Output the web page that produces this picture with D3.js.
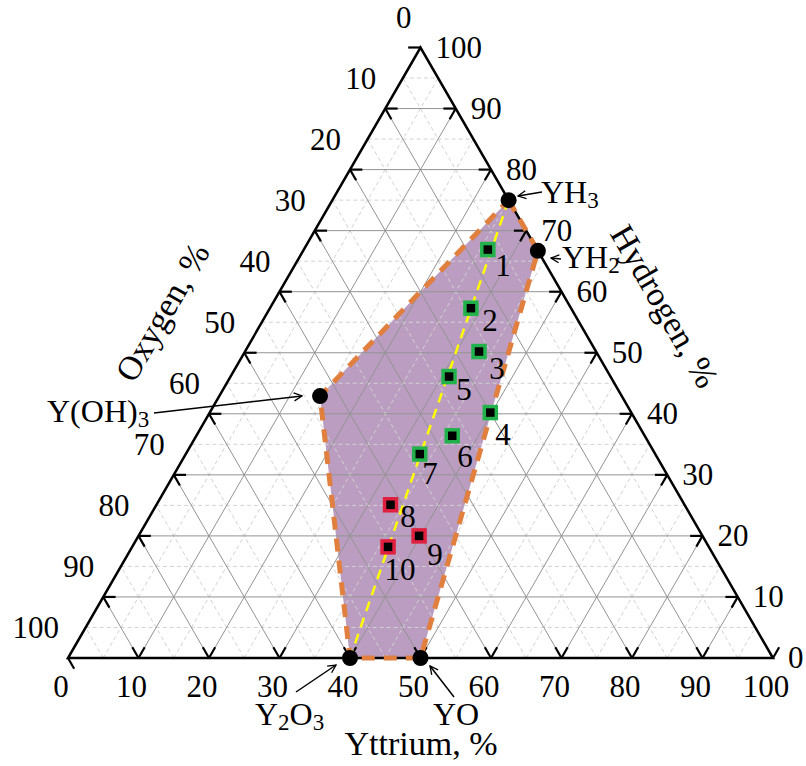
<!DOCTYPE html>
<html>
<head>
<meta charset="utf-8">
<script src="https://cdn.jsdelivr.net/npm/d3@7"></script>
<style>
html,body{margin:0;padding:0;background:#fff;}
svg{display:block;font-family:"Liberation Serif","Times New Roman",serif;}
</style>
</head>
<body>
<svg id="chart" width="806" height="766"></svg>
<script>
// ---- data (ternary compositions, %: Y = yttrium, H = hydrogen, O = oxygen) ----
const tickValues = [0,10,20,30,40,50,60,70,80,90,100];
const tickLabels = ["0","10","20","30","40","50","60","70","80","90","100"];
const compoundNames = ["YH3","YH2","Y(OH)3","Y2O3","YO"];
const compoundY = [25, 33.3, 14.3, 40, 50];
const compoundH = [75, 66.7, 42.9, 0, 0];
const sampleIds = ["1","2","3","4","5","6","7","8","9","10"];
const sampleY = [26.1, 28.5, 33.2, 39.8, 31.0, 36.3, 33.2, 33.2, 39.8, 36.3];
const sampleH = [66.9, 57.3, 50.2, 40.2, 46.1, 36.4, 33.4, 25.1, 20.0, 18.2];
const sampleGroup = ["g","g","g","g","g","g","g","r","r","r"];
// region outline through compounds (by name)
const regionOrder = ["YH3","YH2","YO","Y2O3","Y(OH)3"];

// ---- geometry ----
const svg = d3.select("#chart");
const xS = d3.scaleLinear().domain([0,100]).range([68,773]);
const hS = d3.scaleLinear().domain([0,100]).range([658,47.5]);
const P = (Y,H) => [xS(Y + H/2), hS(H)];
const line = d3.line();

// region fill
const regionPts = regionOrder.map(n => { const i = compoundNames.indexOf(n); return P(compoundY[i], compoundH[i]); });
svg.append("path").attr("d", line(regionPts) + "Z")
  .attr("fill", "#bb9dc1").attr("stroke", "none");

// grid
const minor = d3.range(5,100,10);
const major = d3.range(10,100,10);
function gridLines(vals){
  const segs = [];
  vals.forEach(v => {
    segs.push([P(0,v), P(100-v,v)]);           // constant H
    segs.push([P(v,0), P(v,100-v)]);           // constant Y
    segs.push([P(100-v,0), P(0,100-v)]);       // constant O
  });
  return segs;
}
svg.append("g").selectAll("path").data(gridLines(minor)).join("path")
  .attr("d", d => line(d)).attr("stroke", "#d2d2d2").attr("stroke-width", 1)
  .attr("stroke-dasharray", "4,3").attr("fill", "none");
svg.append("g").selectAll("path").data(gridLines(major)).join("path")
  .attr("d", d => line(d)).attr("stroke", "#939393").attr("stroke-width", 1).attr("fill", "none");

// ticks: dark segments at ends of major lines
const t = 1.75;
const ticks = [];
major.forEach(v => {
  ticks.push([P(0,v), P(t,v)]); ticks.push([P(100-v,v), P(100-v-t,v)]);
  ticks.push([P(v,0), P(v,t)]); ticks.push([P(v,100-v), P(v,100-v-t)]);
  ticks.push([P(0,100-v), P(t,100-v-t)]); ticks.push([P(100-v,0), P(100-v-t,t)]);
});
ticks.push([P(0,100), P(-t,100)]);
ticks.push([P(100,0), P(100,t)]);
ticks.push([P(0,0), P(t,-t)]);
svg.append("g").selectAll("path").data(ticks).join("path")
  .attr("d", d => line(d)).attr("stroke", "#000").attr("stroke-width", 2.2).attr("fill", "none");

// triangle frame
svg.append("path").attr("d", line([P(0,0), P(100,0), P(0,100)]) + "Z")
  .attr("fill", "none").attr("stroke", "#000").attr("stroke-width", 2.5).attr("stroke-linejoin", "miter");

// region border (orange dashed)
svg.append("path").attr("d", line(regionPts) + "Z")
  .attr("fill", "none").attr("stroke", "#e07f3e").attr("stroke-width", 5)
  .attr("stroke-dasharray", "13,9");

// yellow trend line YH3 -> Y2O3
{
  const a = compoundNames.indexOf("YH3"), b = compoundNames.indexOf("Y2O3");
  svg.append("path").attr("d", line([P(compoundY[a],compoundH[a]), P(compoundY[b],compoundH[b])]))
    .attr("stroke", "#ffff00").attr("stroke-width", 2.5).attr("stroke-dasharray", "10,7").attr("fill","none");
}

// tick labels
const fs = 31;
const lab = svg.append("g").attr("font-size", fs).attr("fill", "#000");
tickValues.forEach((v,i) => {
  lab.append("text").attr("x", xS(v) - 7).attr("y", 697).attr("text-anchor","middle").text(tickLabels[i]);
  const r = P(100-v, v);
  lab.append("text").attr("x", r[0] + 15).attr("y", r[1] + 10).attr("text-anchor","start").text(tickLabels[i]);
  const l = P(0, 100-v);
  lab.append("text").attr("x", l[0] - 9).attr("y", l[1] - 20).attr("text-anchor","end").text(tickLabels[i]);
});

// axis titles
svg.append("text").attr("x", 421).attr("y", 755).attr("text-anchor","middle").attr("font-size", 34).text("Yttrium, %");
svg.append("text").attr("transform","translate(162,312) rotate(-60)").attr("text-anchor","middle")
  .attr("dy","0.35em").attr("font-size", 34).text("Oxygen, %");
svg.append("text").attr("transform","translate(665,306) rotate(60)").attr("text-anchor","middle")
  .attr("dy","0.35em").attr("font-size", 34).text("Hydrogen, %");

// arrows
svg.append("defs").append("marker").attr("id","arr").attr("viewBox","0 0 10 10")
  .attr("refX",9).attr("refY",5).attr("markerWidth",10).attr("markerHeight",10)
  .attr("markerUnits","userSpaceOnUse").attr("orient","auto")
  .append("path").attr("d","M1,1 L9,5 L1,9").attr("fill","none").attr("stroke","#000").attr("stroke-width",1.3);
const arrows = [
  [[542,192],[518,196]],
  [[561,259],[551,258]],
  [[154,413],[302,396]],
  [[296,692],[336,665]],
  [[454,697],[430,666]]
];
svg.append("g").selectAll("path").data(arrows).join("path")
  .attr("d", d => line(d)).attr("stroke","#000").attr("stroke-width",1.5).attr("fill","none")
  .attr("marker-end","url(#arr)");

// compound labels (with subscripts)
const clab = [
  {parts:[["YH",0],["3",1]], x:541, y:203},
  {parts:[["YH",0],["2",1]], x:562, y:268},
  {parts:[["Y(OH)",0],["3",1]], x:47, y:422},
  {parts:[["Y",0],["2",1],["O",0],["3",1]], x:255, y:725},
  {parts:[["YO",0]], x:433, y:725}
];
clab.forEach(c => {
  const tx = svg.append("text").attr("x", c.x).attr("y", c.y).attr("font-size", 32);
  c.parts.forEach(p => {
    if (p[1]) tx.append("tspan").attr("font-size", 23).attr("dy", 5).text(p[0]);
    else tx.append("tspan").attr("y", c.y).text(p[0]);
  });
});

// compound points
svg.append("g").selectAll("circle").data(compoundNames).join("circle")
  .attr("cx", (d,i) => P(compoundY[i],compoundH[i])[0])
  .attr("cy", (d,i) => P(compoundY[i],compoundH[i])[1])
  .attr("r", 8).attr("fill", "#000");

// sample squares
const sq = 12;
svg.append("g").selectAll("rect").data(sampleIds).join("rect")
  .attr("x", (d,i) => P(sampleY[i],sampleH[i])[0] - sq/2)
  .attr("y", (d,i) => P(sampleY[i],sampleH[i])[1] - sq/2)
  .attr("width", sq).attr("height", sq).attr("fill", "#000")
  .attr("stroke", (d,i) => sampleGroup[i] === "g" ? "#22b24c" : "#e0203f").attr("stroke-width", 3.5);

// sample number labels
const numPos = [[503,276],[490,331],[497,379],[503,445],[464,400],[465,467],[430,484],[408,527],[435,565],[400,580]];
svg.append("g").selectAll("text").data(sampleIds).join("text")
  .attr("x", (d,i) => numPos[i][0]).attr("y", (d,i) => numPos[i][1])
  .attr("text-anchor","middle").attr("font-size", 31).text(d => d);
</script>
</body>
</html>
